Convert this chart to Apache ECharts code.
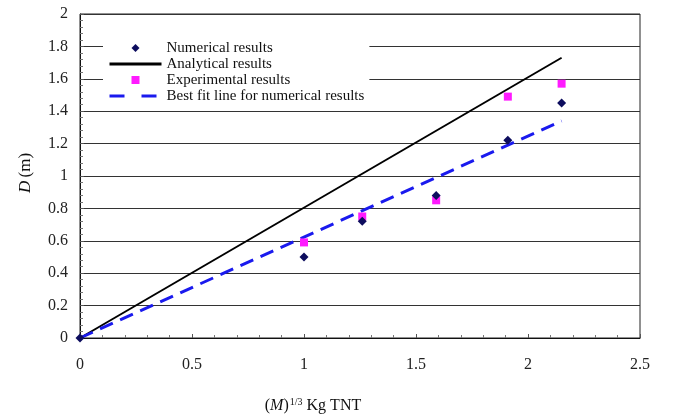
<!DOCTYPE html>
<html>
<head>
<meta charset="utf-8">
<script src="https://cdn.jsdelivr.net/npm/echarts@6/dist/echarts.min.js"></script>
<style>html,body{margin:0;padding:0;background:#fff;}#c{width:676px;height:416px;}</style>
</head>
<body>
<div id="c"></div>
<script>
const xNumerical = [0, 1.0, 1.26, 1.59, 1.91, 2.15];
const numerical = [0, 0.50, 0.72, 0.88, 1.22, 1.45];
const xExperimental = [1.0, 1.26, 1.59, 1.91, 2.15];
const experimental = [0.59, 0.75, 0.85, 1.49, 1.57];
const xAnalytical = [0, 2.15];
const analytical = [0, 1.73];
const xBestFit = [0, 2.15];
const bestFit = [0, 1.34];
const seriesNames = ['Numerical results', 'Analytical results', 'Experimental results', 'Best fit line for numerical results'];

const pairs = (xs, ys) => xs.map((x, i) => [x, ys[i]]);
const serif = 'Liberation Serif, Times New Roman, serif';
const clear = 'rgba(0,0,0,0)';

const chart = echarts.init(document.getElementById('c'));
chart.setOption({
  animation: false,
  backgroundColor: '#fff',
  grid: { left: 80, right: 36, top: 14, bottom: 78, outerBoundsMode: 'none', containLabel: false,
    show: true, borderColor: '#222', borderWidth: 1, backgroundColor: 'transparent' },
  legend: {
    orient: 'vertical', left: 103, top: 37, itemWidth: 52, itemHeight: 10, itemGap: 0,
    backgroundColor: '#fff', padding: [3, 5, 4, 5],
    textStyle: { fontFamily: serif, fontSize: 15, color: '#111', lineHeight: 16 },
    data: [
      { name: seriesNames[0], lineStyle: { color: clear, opacity: 0 } },
      { name: seriesNames[1], itemStyle: { color: clear, borderColor: clear, borderWidth: 0 }, lineStyle: { width: 3 } },
      { name: seriesNames[2], lineStyle: { color: clear, opacity: 0 } },
      { name: seriesNames[3], itemStyle: { color: clear, borderColor: clear, borderWidth: 0 }, lineStyle: { width: 3, type: [15, 17] } }
    ]
  },
  xAxis: {
    type: 'value', min: 0, max: 2.5, interval: 0.5,
    name: '{p|(}{i|M}{p|)}{s|1/3}{p| Kg TNT}', nameLocation: 'middle', nameGap: 59,
    nameTextStyle: { padding: [0, 94, 0, 0], rich: {
      p: { fontFamily: serif, fontSize: 16, color: '#111' },
      i: { fontFamily: serif, fontSize: 16, fontStyle: 'italic', color: '#111' },
      s: { fontFamily: serif, fontSize: 10, color: '#111', verticalAlign: 'top', padding: [0, 0, 8, 1] }
    } },
    axisLine: { lineStyle: { color: '#111', width: 1 } },
    axisTick: { inside: true, length: 4, lineStyle: { color: '#555' } },
    minorTick: { show: true, splitNumber: 5, length: 3, lineStyle: { color: '#777' } },
    axisLabel: { fontFamily: serif, fontSize: 16, color: '#222', margin: 19 },
    splitLine: { show: false }
  },
  yAxis: {
    type: 'value', min: 0, max: 2, interval: 0.2,
    name: '{i|D} {p|(m)}', nameLocation: 'middle', nameGap: 46, nameRotate: 90,
    nameTextStyle: { rich: {
      p: { fontFamily: serif, fontSize: 17, color: '#111' },
      i: { fontFamily: serif, fontSize: 17, fontStyle: 'italic', color: '#111' }
    }, padding: [0, 0, 0, 6] },
    axisLine: { lineStyle: { color: '#111', width: 1 } },
    axisTick: { inside: true, length: 4, lineStyle: { color: '#555' } },
    minorTick: { show: true, splitNumber: 5, length: 3, lineStyle: { color: '#777' } },
    axisLabel: { fontFamily: serif, fontSize: 16, color: '#222', margin: 12 },
    splitLine: { show: true, lineStyle: { color: '#333', width: 1 } }
  },
  series: [
    { name: seriesNames[0], type: 'line', symbol: 'diamond', symbolSize: 9, z: 5,
      lineStyle: { opacity: 0 }, itemStyle: { color: '#0d0d5e' }, data: pairs(xNumerical, numerical) },
    { name: seriesNames[1], type: 'line', symbol: 'none', z: 3,
      lineStyle: { color: '#000', width: 2 }, itemStyle: { color: '#000' }, data: pairs(xAnalytical, analytical) },
    { name: seriesNames[2], type: 'line', symbol: 'rect', symbolSize: 8, z: 4,
      lineStyle: { opacity: 0 }, itemStyle: { color: '#ff1aff' }, data: pairs(xExperimental, experimental) },
    { name: seriesNames[3], type: 'line', symbol: 'none', z: 3,
      lineStyle: { color: '#1a1aee', width: 3, type: [14, 8] }, itemStyle: { color: '#1a1aee' }, data: pairs(xBestFit, bestFit) }
  ]
});
</script>
</body>
</html>
